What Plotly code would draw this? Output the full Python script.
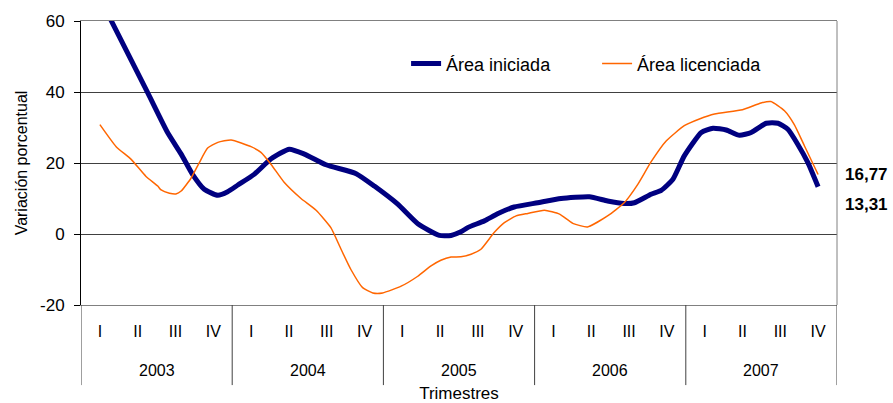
import plotly.graph_objects as go

# ---- data (x = quarter index, 0 = 2003-I ... 19 = 2007-IV) ----
years = ["2003", "2004", "2005", "2006", "2007"]
quarters = ["I", "II", "III", "IV"]
y_tickvals = [-20, 0, 20, 40, 60]
y_ticktext = ["-20", "0", "20", "40", "60"]

iniciada_x = [0.0, 1.26, 1.79, 2.15, 2.45, 2.76, 3.12, 3.38, 3.65, 4.08, 4.53, 5.01, 5.41,
              5.98, 6.78, 7.26, 7.88, 8.41, 8.98, 9.29, 9.55, 9.73, 10.17, 10.52, 10.96,
              11.58, 12.2, 12.95, 13.43, 13.87, 14.14, 14.58, 14.85, 15.16, 15.46, 15.91,
              16.22, 16.57, 16.92, 17.23, 17.63, 17.94, 18.2, 18.46, 18.73, 19.0]
iniciada_y = [66.4, 39.9, 28.6, 22.5, 16.8, 12.6, 10.9, 11.9, 13.8, 16.8, 21.2, 23.9, 22.5,
              19.5, 17.0, 13.5, 8.4, 2.9, -0.4, -0.4, 0.6, 1.8, 3.7, 5.7, 7.6,
              8.8, 10.0, 10.5, 9.3, 8.6, 8.8, 11.2, 12.3, 15.4, 22.0, 28.6,
              29.8, 29.3, 27.8, 28.6, 31.2, 31.2, 29.5, 25.3, 20.1, 13.31]

licenciada_x = [0.0, 0.43, 0.82, 1.22, 1.53, 1.62, 1.84, 2.01, 2.15, 2.41, 2.63, 2.85, 3.12,
                3.47, 4.0, 4.26, 4.53, 4.88, 5.32, 5.72, 6.11, 6.38, 6.64, 6.95, 7.22, 7.48,
                7.97, 8.41, 8.76, 9.02, 9.29, 9.55, 9.82, 10.08, 10.43, 10.7, 11.01, 11.32,
                11.76, 12.16, 12.51, 12.9, 13.43, 13.87, 14.23, 14.58, 14.98, 15.46, 15.86,
                16.26, 17.0, 17.49, 17.75, 18.11, 18.37, 18.64, 19.0]
licenciada_y = [30.8, 24.6, 21.1, 16.2, 13.5, 12.4, 11.5, 11.3, 12.1, 15.7, 20.1, 24.2, 25.8,
                26.5, 24.6, 23.0, 19.6, 14.5, 10.0, 6.7, 1.8, -4.3, -10.0, -15.1, -16.6, -16.6,
                -14.7, -11.9, -9.0, -7.4, -6.5, -6.4, -5.7, -4.3, 0.4, 3.2, 5.1, 5.8,
                6.7, 5.6, 3.0, 2.0, 5.1, 8.8, 14.0, 20.3, 26.2, 30.5, 32.4,
                33.8, 35.0, 36.9, 37.3, 34.7, 30.8, 24.8, 16.77]

last_iniciada = "13,31"
last_licenciada = "16,77"

FONT = "Liberation Sans, Arial, sans-serif"

n_q = len(quarters)
x_tickvals = list(range(len(years) * n_q))
x_ticktext = [q for _ in years for q in quarters]

fig = go.Figure()

fig.add_trace(go.Scatter(x=iniciada_x, y=iniciada_y, name="Área iniciada",
                         mode="lines", line=dict(color="#000080", width=5, shape="spline", smoothing=0.5)))
fig.add_trace(go.Scatter(x=licenciada_x, y=licenciada_y, name="Área licenciada",
                         mode="lines", line=dict(color="#FF6600", width=1.5, shape="spline", smoothing=0.5)))

YEAR_Y = -0.229     # paper position of the year row
DIV_Y = -0.282      # bottom of the year dividers

annotations = [
    dict(x=i * n_q + (n_q - 1) / 2, xref="x", y=YEAR_Y, yref="paper", text=yr,
         showarrow=False, xanchor="center", yanchor="middle", font=dict(size=16))
    for i, yr in enumerate(years)
]
annotations += [
    dict(x=1.008, xref="paper", y=licenciada_y[-1], yref="y", text="<b>" + last_licenciada + "</b>",
         showarrow=False, xanchor="left", yanchor="middle", font=dict(size=17)),
    dict(x=1.008, xref="paper", y=iniciada_y[-1], yref="y", text="<b>" + last_iniciada + "</b>",
         showarrow=False, xanchor="left", yanchor="middle", yshift=-18, font=dict(size=17)),
]

shapes = [dict(type="line", xref="x", yref="paper", x0=i * n_q - 0.5, x1=i * n_q - 0.5,
               y0=0, y1=DIV_Y, line=dict(color="#404040", width=1))
          for i in range(len(years) + 1)]
shapes.append(dict(type="line", xref="paper", yref="paper", x0=1, x1=1, y0=0, y1=1,
                   line=dict(color="#808080", width=1)))

fig.update_layout(
    width=893, height=403,
    margin=dict(l=81, r=56, t=21, b=98, autoexpand=False),
    paper_bgcolor="white", plot_bgcolor="white",
    font=dict(family=FONT, size=16, color="black"),
    showlegend=True,
    legend=dict(orientation="h", x=0.430, xanchor="left", y=0.849, yanchor="middle",
                bgcolor="rgba(0,0,0,0)", font=dict(size=18), traceorder="normal",
                entrywidth=146),
    xaxis=dict(range=[-0.5, len(x_tickvals) - 0.5], tickvals=x_tickvals, ticktext=x_ticktext,
               showgrid=False, zeroline=False, automargin=False,
               showline=True, linecolor="#808080", linewidth=1, mirror=True,
               ticks="", tickfont=dict(size=16), ticklabelstandoff=12,
               title=dict(text="Trimestres", font=dict(size=17), standoff=50)),
    yaxis=dict(range=[-20, 60], tickvals=y_tickvals, ticktext=y_ticktext, automargin=False,
               showgrid=True, gridcolor="#404040", gridwidth=1,
               zeroline=False, showline=True, linecolor="black", linewidth=1,
               ticks="outside", ticklen=6, tickcolor="black", tickfont=dict(size=17),
               ticklabelstandoff=6,
               title=dict(text="Variación porcentual", font=dict(size=16), standoff=8)),
    shapes=shapes,
    annotations=annotations,
)

fig.write_html("out.html", post_script="document.body.style.margin='0';",
               config={"displayModeBar": False})
